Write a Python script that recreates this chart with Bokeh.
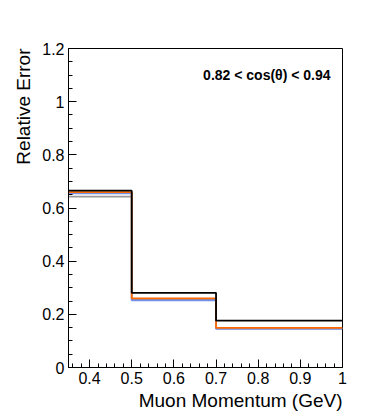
from bokeh.plotting import figure
from bokeh.models import Range1d, FixedTicker, Label, Title
from bokeh.embed import file_html
from bokeh.resources import INLINE

# bin edges (GeV)
edges = [0.35, 0.5, 0.7, 1.0]
# relative error per bin for each series
total = [0.665, 0.281, 0.176]
gray_s = [0.643, 0.255, 0.147]
blue_s = [0.655, 0.253, 0.145]
orange_s = [0.660, 0.260, 0.149]

x_major = [0.4, 0.5, 0.6, 0.7, 0.8, 0.9, 1.0]
x_labels = {0.4: "0.4", 0.5: "0.5", 0.6: "0.6", 0.7: "0.7", 0.8: "0.8", 0.9: "0.9", 1.0: "1"}
x_minor = [0.36, 0.38, 0.42, 0.44, 0.46, 0.48, 0.52, 0.54, 0.56, 0.58, 0.62, 0.64, 0.66, 0.68,
           0.72, 0.74, 0.76, 0.78, 0.82, 0.84, 0.86, 0.88, 0.92, 0.94, 0.96, 0.98]
y_major = [0.0, 0.2, 0.4, 0.6, 0.8, 1.0, 1.2]
y_labels = {0.0: "0", 0.2: "0.2", 0.4: "0.4", 0.6: "0.6", 0.8: "0.8", 1.0: "1", 1.2: "1.2"}
y_minor = [0.05, 0.1, 0.15, 0.25, 0.3, 0.35, 0.45, 0.5, 0.55, 0.65, 0.7, 0.75, 0.85, 0.9, 0.95,
           1.05, 1.1, 1.15]

FONT = "Liberation Sans"

p = figure(width=375, height=417, output_backend="svg", toolbar_location=None,
           x_range=Range1d(0.35, 1.0), y_range=Range1d(0, 1.2),
           min_border_left=68, min_border_right=33, min_border_top=48, min_border_bottom=50)
p.background_fill_color = "white"
p.border_fill_color = "white"
p.outline_line_color = "black"
p.outline_line_width = 1
p.grid.visible = False

for ax, maj, mnr, labs in ((p.xaxis[0], x_major, x_minor, x_labels), (p.yaxis[0], y_major, y_minor, y_labels)):
    ax.ticker = FixedTicker(ticks=maj, minor_ticks=mnr)
    ax.major_label_overrides = labs
    ax.major_tick_in = 8
    ax.major_tick_out = 0
    ax.minor_tick_in = 4
    ax.minor_tick_out = 0
    ax.axis_line_color = "black"
    ax.major_tick_line_color = "black"
    ax.minor_tick_line_color = "black"
    ax.major_label_text_font = FONT
    ax.major_label_text_font_size = "16px"
    ax.major_label_text_color = "black"
    ax.major_label_standoff = 4

def steps(vals):
    return vals + [vals[-1]]

p.step(edges, steps(gray_s), mode="after", line_color="#999999", line_width=1.8)
p.step(edges, steps(blue_s), mode="after", line_color="#6f8fe8", line_width=1.8)
p.step(edges, steps(orange_s), mode="after", line_color="#ff6a00", line_width=1.8)
p.step(edges, steps(total), mode="after", line_color="black", line_width=1.8)

p.add_layout(Title(text="Muon Momentum (GeV)", align="right", text_font=FONT,
                   text_font_size="19px", text_font_style="normal", text_color="black",
                   standoff=2), "below")
p.add_layout(Title(text="Relative Error", align="right", text_font=FONT,
                   text_font_size="19px", text_font_style="normal", text_color="black",
                   standoff=11), "left")
p.add_layout(Label(x=0.9716, y=1.0986, text="0.82 < cos(\u03b8) < 0.94", text_align="right",
                   text_baseline="middle", text_font=FONT, text_font_size="14px",
                   text_font_style="bold", text_color="black"))

open("out.html", "w").write(file_html(p, INLINE))
